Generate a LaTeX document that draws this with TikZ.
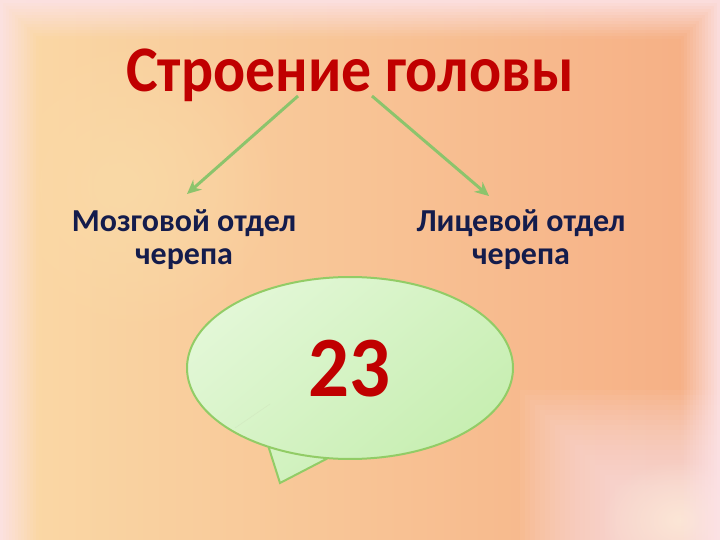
\documentclass[tikz,border=0pt]{standalone}
\usepackage{fontspec}
\setmainfont{Carlito}
\newfontfamily\narrowfont[FakeStretch=0.92]{Carlito}
\newfontfamily\numberfont[FakeStretch=0.94]{Carlito}
\usetikzlibrary{arrows.meta,fadings}
\definecolor{titlered}{HTML}{C00000}
\definecolor{labelblue}{HTML}{141C4C}
\definecolor{arrowgreen}{HTML}{8CC46C}
\definecolor{bubbleedge}{HTML}{92CC66}
\definecolor{bubblelight}{HTML}{E2F7D6}
\definecolor{bubbledark}{HTML}{C6EEB0}
\definecolor{bgpink}{HTML}{FCE2E6}
\definecolor{bgcream}{HTML}{FCE6D6}
\definecolor{bgyellow}{HTML}{FAD9A6}
\definecolor{bgorange}{HTML}{F5A67E}
\definecolor{bgpeach}{HTML}{F6AE84}
\tikzfading[name=softblob, inner color=transparent!0, outer color=transparent!100]
\tikzstyle{heading}=[font=\narrowfont\bfseries\fontsize{65}{78}\selectfont, text=titlered, inner sep=0pt]
\tikzstyle{part}=[font=\bfseries\fontsize{32}{33}\selectfont, text=labelblue, align=center, inner sep=0pt]
\tikzstyle{branch}=[-{Stealth[length=14pt,width=13pt]}, arrowgreen, line width=3pt]
\tikzstyle{count}=[font=\numberfont\bfseries\fontsize{86}{100}\selectfont, text=titlered, inner sep=0pt]
\tikzstyle{balloon}=[draw=bubbleedge, line width=2pt, top color=bubblelight, bottom color=bubbledark, shading angle=40]

\begin{document}
\begin{tikzpicture}[x=1pt, y=-1pt]
    \useasboundingbox (0,0) rectangle (720,540);
    % background
    \begin{scope}
        \shade[left color=bgyellow, middle color=bgorange, right color=bgpeach] (0,0) rectangle (720,540);
        \fill[bgyellow, path fading=softblob] (-40,30) rectangle (280,340);
        \foreach \i in {0,...,19}
            \fill[bgpink, opacity=0.07] (520+5*\i,390+5*\i) rectangle (720,540);
        \fill[bgcream, path fading=softblob] (600,460) rectangle (760,580);
        \foreach \i [evaluate=\i as \op using 0.9-\i/14] in {0,...,12}
            \draw[bgpink, line width=3pt, opacity=\op] (1.5+3*\i,540) -- (1.5+3*\i,1.5+3*\i) -- (718.5-3*\i,1.5+3*\i) -- (718.5-3*\i,540);
    \end{scope}
    % texts
    \begin{scope}
        \node (title) at (350,92)[heading, anchor=base] {Строение головы};
        \node (brain) at (184,209)[part, anchor=north] {Мозговой отдел\\черепа};
        \node (face) at (521,209)[part, anchor=north] {Лицевой отдел\\черепа};
    \end{scope}
    \begin{scope}
        \path [branch] ([xshift=-52pt,yshift=-4pt]title.base) edge ([xshift=3pt,yshift=15pt]brain.north);
        \path [branch] ([xshift=22pt,yshift=-4pt]title.base) edge ([xshift=-32pt,yshift=13pt]face.north);
    \end{scope}
    % speech bubble
    \begin{scope}
        \coordinate (tip) at (280,483);
        \draw[balloon] plot[smooth, domain=97.8:480, samples=120] ({350+163*cos(\x)}, {368+91*sin(\x)}) -- (tip) -- cycle;
        \draw[bubbleedge!40!white, line width=0.6pt] (235,428) -- (270,404);
        \node (answer) at (349,396)[count, anchor=base] {23};
    \end{scope}
\end{tikzpicture}
\end{document}
